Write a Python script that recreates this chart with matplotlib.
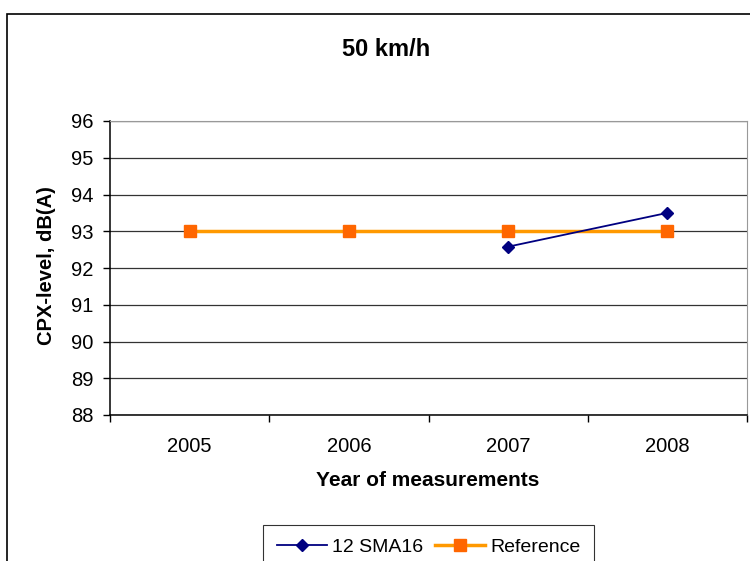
import matplotlib.pyplot as plt
from matplotlib.patches import Rectangle

plt.rcParams['font.family'] = ['Liberation Sans', 'DejaVu Sans']

# Data
years = ['2005', '2006', '2007', '2008']
sma16_years = ['2007', '2008']
sma16 = [92.58, 93.5]
reference = [93, 93, 93, 93]
yticks = [88, 89, 90, 91, 92, 93, 94, 95, 96]

fig = plt.figure(figsize=(7.5, 5.61), dpi=100)

# outer chart border (runs off the right and bottom edges like the source)
fig.patches.append(Rectangle((7 / 750, -0.1), 1.2, 1 - 14 / 561 + 0.1,
                             transform=fig.transFigure, fill=False,
                             edgecolor='black', linewidth=1.2))

ax = fig.add_axes([110 / 750, 1 - 415 / 561, 637 / 750, 294 / 561])

x_all = range(len(years))
x_sma = [years.index(y) for y in sma16_years]

ax.plot(x_sma, sma16, color='#000080', linewidth=1.3, marker='D',
        markersize=6, markerfacecolor='#000080', markeredgecolor='#000080',
        label='12 SMA16', zorder=4)
ax.plot(x_all, reference, color='#FF9900', linewidth=2.5, marker='s',
        markersize=9, markerfacecolor='#FF6600', markeredgecolor='#FF6600',
        label='Reference', zorder=3)

ax.set_xlim(-0.5, len(years) - 0.5)
ax.set_ylim(88, 96)
ax.set_yticks(yticks)
ax.set_xticks(list(x_all))
ax.set_xticklabels(years)
ax.set_xticks([i - 0.5 for i in range(len(years) + 1)], minor=True)
ax.tick_params(axis='x', which='major', length=0, pad=16, labelsize=14.5)
ax.tick_params(axis='x', which='minor', length=5, direction='out', width=1)
ax.tick_params(axis='y', length=5, direction='out', width=1, labelsize=14.5,
               pad=7)

ax.yaxis.grid(True, color='#333333', linewidth=0.9)
ax.set_axisbelow(True)
for side in ['top', 'right']:
    ax.spines[side].set_color('#999999')
for side in ['left', 'bottom']:
    ax.spines[side].set_color('black')
    ax.spines[side].set_linewidth(1.1)

fig.text(386 / 750, 1 - 49 / 561, '50 km/h', ha='center', va='center',
         fontsize=17, fontweight='bold')
fig.text(47 / 750, 1 - 266 / 561, 'CPX-level, dB(A)', ha='center',
         va='center', rotation=90, fontsize=14.5, fontweight='bold')
fig.text(428 / 750, 1 - 481 / 561, 'Year of measurements', ha='center',
         va='center', fontsize=15, fontweight='bold')

leg = fig.legend(loc='upper left', bbox_to_anchor=(263 / 750, 1 - 525 / 561),
                 ncol=2, fontsize=14, frameon=True, fancybox=False,
                 edgecolor='black', handlelength=2.6, columnspacing=0.6,
                 handletextpad=0.25, borderpad=0.7, borderaxespad=0)
leg.get_frame().set_linewidth(0.8)

fig.savefig('out.png', dpi=100)
